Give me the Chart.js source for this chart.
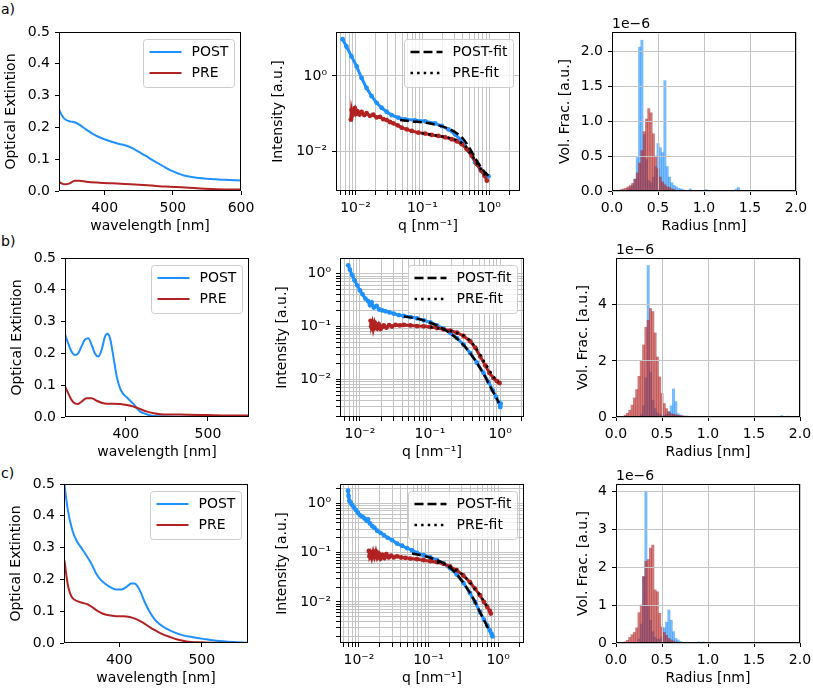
<!DOCTYPE html>
<html><head><meta charset="utf-8">
<script src="https://cdn.jsdelivr.net/npm/chart.js@4.4.0/dist/chart.umd.min.js"></script>
<style>
html,body{margin:0;padding:0;background:#fff;}
body{width:813px;height:691px;position:relative;overflow:hidden;font-family:"DejaVu Sans",sans-serif;}
canvas{position:absolute;}
.lbl{position:absolute;font:14px "DejaVu Sans",sans-serif;color:#000;line-height:16px;}
</style></head><body>
<div class="lbl" style="left:1px;top:1px">a)</div>
<div class="lbl" style="left:1px;top:233px">b)</div>
<div class="lbl" style="left:1px;top:465px">c)</div>
<script>
// ---------------- DATA ----------------
// Row a – UV/Vis
const uvA_wl_post = [333.3,336.7,341.5,348.8,356,363.3,372.9,382.6,392.3,401.9,411.6,421.3,430.9,440.6,450.2,459.9,469.6,479.2,488.9,498.6,508.2,517.9,527.5,537.2,556.5,575.8,600];
const uvA_post    = [0.256,0.24,0.226,0.219,0.216,0.208,0.193,0.18,0.169,0.161,0.154,0.148,0.143,0.135,0.123,0.111,0.098,0.086,0.074,0.063,0.055,0.048,0.044,0.041,0.038,0.035,0.033];
const uvA_wl_pre  = [333.3,336.7,341.5,348.8,356,363.3,372.9,392.3,411.6,430.9,450.2,469.6,488.9,517.9,546.9,575.8,600];
const uvA_pre     = [0.029,0.024,0.021,0.024,0.032,0.032,0.029,0.026,0.024,0.022,0.02,0.017,0.014,0.011,0.007,0.005,0.005];
// Row b – UV/Vis
const uvB_wl_post = [325.7,329.8,333.9,338,342,346.1,350.2,354.3,358.4,362.4,366.5,370.6,374.7,377.6,380.8,384.9,389,393.1,397.1,401.2,405.3,409.4,413.5,417.6,421.6,429.8,442,458.4,491,550];
const uvB_post    = [0.262,0.232,0.206,0.195,0.2,0.222,0.243,0.248,0.227,0.2,0.19,0.211,0.253,0.262,0.248,0.19,0.127,0.09,0.072,0.062,0.051,0.041,0.027,0.017,0.012,0.005,0.002,0.001,0.001,0.001];
const uvB_wl_pre  = [325.7,329.8,333.9,338,342,346.1,352.2,358.4,364.5,370.6,376.7,384.9,393.1,401.2,409.4,417.6,425.7,433.9,442,458.4,474.7,499.2,523.7,550];
const uvB_pre     = [0.098,0.075,0.054,0.043,0.041,0.048,0.059,0.059,0.051,0.045,0.042,0.042,0.041,0.038,0.033,0.025,0.017,0.012,0.009,0.008,0.007,0.006,0.005,0.005];
// Row c – UV/Vis
const uvC_wl_post = [333.6,335.6,337.7,340.5,343.7,347.8,353.8,359.9,366,372.1,378.1,384.2,390.3,396.4,402.4,408.5,414.6,418.6,422.7,426.7,430.8,436.8,442.9,449,457.1,465.2,477.3,489.5,501.6,517.8,538.1,556];
const uvC_post    = [0.497,0.455,0.418,0.381,0.35,0.324,0.3,0.276,0.25,0.218,0.197,0.184,0.174,0.168,0.168,0.176,0.187,0.187,0.176,0.155,0.129,0.098,0.074,0.059,0.045,0.035,0.024,0.018,0.013,0.007,0.003,0.001];
const uvC_wl_pre  = [333.6,335.6,337.7,340.5,343.7,349.8,355.9,362,368,374.1,380.2,388.3,396.4,404.5,412.6,420.6,428.7,436.8,444.9,453,461.1,469.2,481.4,497.6,517.8,556];
const uvC_pre     = [0.26,0.218,0.182,0.155,0.14,0.131,0.126,0.121,0.111,0.1,0.092,0.087,0.084,0.084,0.082,0.075,0.064,0.05,0.038,0.027,0.019,0.012,0.005,0.002,0.001,0.0];

// Row a – SAXS
const saxsA_q_post = [0.0064,0.0073,0.0087,0.0104,0.0123,0.0146,0.0174,0.0207,0.0245,0.0292,0.0347,0.0437,0.055,0.0776,0.11,0.155,0.195,0.245,0.309,0.389,0.49,0.617,0.733,0.871,0.977];
const saxsA_post   = [9.42,6.03,3.3,1.795,0.885,0.483,0.292,0.195,0.144,0.113,0.0923,0.0785,0.071,0.0668,0.0631,0.0557,0.0473,0.0387,0.0286,0.0191,0.0104,0.00513,0.00343,0.00254,0.0022];
const saxsA_q_pre  = [0.00851,0.00871,0.00902,0.00933,0.00977,0.0102,0.0107,0.0115,0.0123,0.0135,0.0146,0.0164,0.0184,0.0207,0.0232,0.026,0.0292,0.0327,0.0367,0.0427,0.049,0.0582,0.0692,0.0871,0.11,0.138,0.174,0.219,0.275,0.327,0.389,0.462,0.55,0.653,0.759,0.851,0.923];
const saxsA_pre    = [0.07,0.125,0.092,0.122,0.14,0.1,0.115,0.095,0.112,0.092,0.103,0.088,0.094,0.08,0.083,0.072,0.068,0.0604,0.0557,0.0493,0.0428,0.0387,0.035,0.0316,0.0298,0.0275,0.0258,0.0238,0.0211,0.0187,0.0156,0.0115,0.00769,0.00465,0.0031,0.00229,0.00169];
const saxsA_q_postfit = [0.0462,0.0692,0.11,0.174,0.245,0.327,0.412,0.519,0.653,0.822,0.977];
const saxsA_postfit   = [0.068,0.0628,0.058,0.0493,0.0403,0.0304,0.0211,0.0115,0.00568,0.0031,0.00229];
const saxsA_q_prefit  = [0.0977,0.155,0.245,0.347,0.437,0.55,0.692,0.822,0.923];
const saxsA_prefit    = [0.0304,0.0269,0.0233,0.0191,0.0141,0.008,0.0042,0.00269,0.00199];
// Row b – SAXS
const saxsB_q_post = [0.00682,0.00721,0.00778,0.00839,0.00916,0.01,0.0109,0.012,0.013,0.0139,0.0147,0.0158,0.0173,0.0188,0.0208,0.0232,0.0264,0.0304,0.0359,0.0423,0.0525,0.0653,0.0813,0.101,0.126,0.156,0.195,0.242,0.301,0.374,0.466,0.579,0.682,0.787,0.877,0.957,1.0,1.02];
const saxsB_post   = [1.44,1.19,0.929,0.748,0.601,0.484,0.406,0.336,0.304,0.255,0.285,0.228,0.245,0.21,0.202,0.194,0.185,0.175,0.165,0.158,0.151,0.143,0.131,0.12,0.105,0.091,0.0753,0.0605,0.0453,0.0315,0.0207,0.0132,0.0089,0.0062,0.00463,0.00372,0.00299,0.00347];
const saxsB_q_pre  = [0.0142,0.0145,0.015,0.0155,0.0162,0.0169,0.0176,0.0186,0.0197,0.0208,0.0219,0.0239,0.0261,0.0288,0.0322,0.0371,0.0423,0.0525,0.0653,0.0813,0.101,0.126,0.156,0.195,0.242,0.301,0.374,0.442,0.52,0.612,0.705,0.803,0.897,0.979];
const saxsB_pre    = [0.128,0.1,0.118,0.09,0.12,0.102,0.092,0.11,0.09,0.098,0.105,0.095,0.106,0.1,0.107,0.105,0.107,0.105,0.102,0.101,0.098,0.0938,0.0883,0.0834,0.0764,0.0661,0.0524,0.0397,0.0272,0.0184,0.0132,0.0106,0.00929,0.00853];
const saxsB_q_postfit = [0.0423,0.0653,0.101,0.156,0.242,0.336,0.466,0.612,0.762,0.897,0.957];
const saxsB_postfit   = [0.155,0.141,0.118,0.0897,0.0589,0.0375,0.0204,0.0111,0.00637,0.0043,0.00356];
const saxsB_q_prefit  = [0.101,0.156,0.242,0.336,0.442,0.548,0.682,0.803,0.946];
const saxsB_prefit    = [0.098,0.0883,0.0753,0.0615,0.0409,0.0257,0.0159,0.0111,0.0089];
// Row c – SAXS
const saxsC_q_post = [0.00697,0.00711,0.00728,0.0076,0.00803,0.00849,0.00906,0.00968,0.0103,0.0112,0.012,0.0129,0.0135,0.0144,0.0155,0.0167,0.0183,0.0204,0.0228,0.0259,0.0299,0.0353,0.0416,0.049,0.0578,0.0681,0.0849,0.106,0.132,0.164,0.204,0.254,0.316,0.394,0.465,0.547,0.624,0.697,0.76,0.803,0.83];
const saxsC_post   = [1.81,1.41,1.13,1.03,0.925,0.829,0.732,0.646,0.579,0.536,0.495,0.444,0.47,0.392,0.346,0.32,0.278,0.253,0.227,0.2,0.18,0.153,0.138,0.124,0.112,0.0993,0.0889,0.0798,0.0703,0.0603,0.0484,0.036,0.0243,0.0152,0.01,0.00626,0.00438,0.00335,0.00265,0.00227,0.002];
const saxsC_q_pre  = [0.0139,0.0142,0.0147,0.0153,0.016,0.0167,0.0175,0.0183,0.0193,0.0204,0.0218,0.0233,0.0248,0.0269,0.029,0.0316,0.0353,0.0403,0.0464,0.0547,0.0681,0.0849,0.106,0.132,0.164,0.204,0.254,0.316,0.394,0.465,0.547,0.624,0.697,0.76,0.785];
const saxsC_pre    = [0.108,0.085,0.098,0.078,0.104,0.082,0.106,0.079,0.095,0.076,0.09,0.078,0.093,0.08,0.087,0.08,0.084,0.0798,0.0785,0.076,0.0738,0.0703,0.0671,0.0641,0.0593,0.0524,0.0441,0.0344,0.0251,0.0187,0.0137,0.01,0.00791,0.00656,0.0058];
const saxsC_q_postfit = [0.0578,0.0849,0.132,0.183,0.254,0.334,0.44,0.547,0.646,0.72];
const saxsC_postfit   = [0.0962,0.0862,0.0703,0.0557,0.0365,0.0218,0.0117,0.00626,0.00392,0.00287];
const saxsC_q_prefit  = [0.132,0.183,0.254,0.334,0.44,0.547,0.646,0.72];
const saxsC_prefit    = [0.0641,0.0566,0.0441,0.0322,0.0202,0.0137,0.00955,0.00731];

// Size distributions (values in units of 1e-6)
const histA_r_post = [0.15,0.175,0.2,0.225,0.25,0.275,0.3,0.325,0.35,0.375,0.4,0.425,0.45,0.475,0.5,0.525,0.55,0.575,0.6,0.625,0.65,0.675,0.7,0.725,0.75,0.775,0.85,1.025,1.35,1.375];
const histA_post   = [0.01,0.03,0.05,0.08,0.17,0.48,2.06,2.16,0.81,0.45,0.15,0.12,0.2,0.35,0.68,0.62,0.55,1.58,0.35,0.2,0.12,0.08,0.06,0.04,0.03,0.02,0.03,0.02,0.03,0.05];
const histA_r_pre  = [0.1,0.125,0.15,0.175,0.2,0.225,0.25,0.275,0.3,0.325,0.35,0.375,0.4,0.425,0.45,0.475,0.5,0.525,0.55,0.575,0.6,0.625,0.65,0.675,0.7];
const histA_pre    = [0.02,0.03,0.04,0.06,0.08,0.11,0.17,0.26,0.4,0.58,0.85,1.03,1.18,1.12,0.82,0.5,0.32,0.2,0.13,0.09,0.06,0.05,0.03,0.02,0.01];
const histB_r_post = [0.275,0.3,0.325,0.35,0.375,0.4,0.425,0.45,0.475,0.5,0.525,0.55,0.575,0.6,0.625,0.65,0.675,0.7,0.725,0.75,0.8,0.85,1.1,1.3,1.8,1.875];
const histB_post   = [0.1,0.4,1.4,5.4,1.6,0.6,0.3,0.15,0.1,0.07,0.05,0.1,0.2,0.4,1.0,0.55,0.12,0.07,0.04,0.03,0.02,0.02,0.02,0.02,0.05,0.03];
const histB_r_pre  = [0.1,0.125,0.15,0.175,0.2,0.225,0.25,0.275,0.3,0.325,0.35,0.375,0.4,0.425,0.45,0.475,0.5,0.525,0.55,0.575,0.6,0.625,0.65,0.675,0.7,0.725,0.75,0.775,0.8,0.825,0.85,0.875,0.9];
const histB_pre    = [0.07,0.13,0.24,0.42,0.68,0.98,1.45,2.0,2.57,3.2,3.45,3.87,3.76,3.0,2.14,1.43,0.84,0.48,0.3,0.18,0.12,0.1,0.08,0.06,0.05,0.04,0.03,0.03,0.02,0.02,0.02,0.01,0.01];
const histC_r_post = [0.25,0.275,0.3,0.325,0.35,0.375,0.4,0.425,0.45,0.475,0.5,0.525,0.55,0.575,0.6,0.625,0.65,0.675,0.7,0.725,0.825,0.85,0.9,0.95,1.0,1.1,1.2,1.45,1.475];
const histC_post   = [0.1,0.5,1.75,4.0,1.0,0.6,0.3,0.15,0.1,0.1,0.15,0.4,0.55,0.87,0.6,0.3,0.12,0.08,0.04,0.02,0.02,0.02,0.03,0.03,0.02,0.02,0.01,0.02,0.02];
const histC_r_pre  = [0.1,0.125,0.15,0.175,0.2,0.225,0.25,0.275,0.3,0.325,0.35,0.375,0.4,0.425,0.45,0.475,0.5,0.525,0.55,0.575,0.6,0.625,0.65,0.675,0.7];
const histC_pre    = [0.03,0.07,0.15,0.22,0.28,0.4,0.8,1.0,1.75,2.15,2.2,2.5,2.58,1.4,1.35,0.78,0.42,0.28,0.2,0.12,0.08,0.05,0.03,0.02,0.01];

// Tick labels
const uvYTicks = [0, 0.1, 0.2, 0.3, 0.4, 0.5];
const uvAXTicks = [400, 500, 600];
const uvBXTicks = [400, 500];
const uvCXTicks = [400, 500];
const saxsMajorTicks = [0.01, 0.1, 1];
const saxsAYTicks = [0.01, 1];
const histXTicks = [0, 0.5, 1, 1.5, 2];
const histAYTicks = [0, 0.5, 1, 1.5, 2];
const histBYTicks = [0, 2, 4];
const histCYTicks = [0, 1, 2, 3, 4];
const histOffsetText = '1e\u22126';

// ---------------- STYLE / LAYOUT ----------------
const BLUE = '#1e90ff', RED = '#b22222';
const BLUE_A = 'rgba(30,144,255,0.6)', RED_A = 'rgba(178,34,34,0.6)';
const GRID = '#c4c4c4';
const FS = 14;
const PW = 184, PH = 159, T = 24, B = 48, R = 16, L = 70;

Chart.defaults.font.family = '"DejaVu Sans", sans-serif';
Chart.defaults.font.size = FS;
Chart.defaults.color = '#000';

function xy(xs, ys) { return xs.map((x, i) => ({x: x, y: ys[i]})); }
function sup(v) {
  const m = {'-':'\u207B','0':'\u2070','1':'\u00B9','2':'\u00B2','3':'\u00B3'};
  const e = Math.round(Math.log10(v));
  return '10' + String(e).split('').map(c => m[c]).join('');
}
function logTickValues(min, max) {
  const out = [];
  for (let e = Math.floor(Math.log10(min)); e <= Math.ceil(Math.log10(max)); e++)
    for (let m = 1; m <= 9; m++) {
      const v = parseFloat((m * Math.pow(10, e)).toPrecision(6));
      if (v >= min && v <= max) out.push(v);
    }
  return out;
}

function rrect(ctx, x, y, w, h, r) {
  ctx.beginPath();
  ctx.moveTo(x + r, y); ctx.lineTo(x + w - r, y); ctx.quadraticCurveTo(x + w, y, x + w, y + r);
  ctx.lineTo(x + w, y + h - r); ctx.quadraticCurveTo(x + w, y + h, x + w - r, y + h);
  ctx.lineTo(x + r, y + h); ctx.quadraticCurveTo(x, y + h, x, y + h - r);
  ctx.lineTo(x, y + r); ctx.quadraticCurveTo(x, y, x + r, y); ctx.closePath();
}

const mplLegend = {
  id: 'mplLegend',
  afterDraw(chart, args, opts) {
    if (!opts || !opts.show) return;
    const items = chart.data.datasets.filter(d => d.inLegend);
    const ctx = chart.ctx, a = chart.chartArea;
    ctx.save();
    ctx.font = FS + 'px "DejaVu Sans", sans-serif';
    const tw = Math.max(...items.map(d => ctx.measureText(d.label).width));
    const w = Math.round(48 + tw + 6), h = 48;
    const x = Math.round(a.right - 7 - w) + 0.5, y = Math.round(a.top + 7) + 0.5;
    rrect(ctx, x, y, w, h, 3);
    ctx.fillStyle = 'rgba(255,255,255,0.8)'; ctx.fill();
    ctx.strokeStyle = '#cccccc'; ctx.lineWidth = 1; ctx.stroke();
    items.forEach((d, i) => {
      const cy = Math.round(y + 12 + i * 21.5);
      ctx.beginPath();
      ctx.setLineDash(d.borderDash || []);
      ctx.lineCap = 'butt';
      ctx.strokeStyle = d.borderColor;
      ctx.lineWidth = d.borderWidth;
      ctx.moveTo(x + 6, cy); ctx.lineTo(x + 38, cy); ctx.stroke();
      ctx.setLineDash([]);
      ctx.fillStyle = '#000'; ctx.textBaseline = 'middle'; ctx.textAlign = 'left';
      ctx.fillText(d.label, x + 48, cy + 0.5);
    });
    ctx.restore();
  }
};
const mplFrame = {
  id: 'mplFrame',
  afterDraw(chart, args, opts) {
    const ctx = chart.ctx, a = chart.chartArea;
    ctx.save();
    ctx.strokeStyle = '#000'; ctx.lineWidth = 1;
    ctx.strokeRect(Math.round(a.left) + 0.5, Math.round(a.top) + 0.5, Math.round(a.right - a.left) - 1, Math.round(a.bottom - a.top) - 1);
    if (opts && opts.offsetText) {
      ctx.fillStyle = '#000'; ctx.font = FS + 'px "DejaVu Sans", sans-serif';
      ctx.textBaseline = 'alphabetic'; ctx.textAlign = 'left';
      ctx.fillText(opts.offsetText, a.left, a.top - 4);
    }
    ctx.restore();
  }
};
Chart.register(mplLegend, mplFrame);

function axis(o) {
  const horiz = !!o.horizontal;
  const half = FS * 1.2 / 2;
  return {
    type: o.type, min: o.min, max: o.max, bounds: 'data', offset: false, grace: 0,
    afterBuildTicks: s => { s.ticks = o.ticks.map(v => ({value: v})); },
    afterFit: s => { if (horiz) s.height = B; else s.width = L; },
    ticks: { autoSkip: false, maxRotation: 0, minRotation: 0, padding: horiz ? 4.6 : 5, callback: o.fmt, color: '#000', font: {size: FS} },
    grid: { display: true, drawOnChartArea: !!o.grid, drawTicks: true, color: GRID, lineWidth: 1, tickLength: 4, tickColor: '#000', tickWidth: 1, offset: false, z: o.gridZ || 0 },
    border: { display: false },
    title: { display: true, text: o.title, color: '#000', font: {size: FS},
             padding: horiz ? {top: 0, bottom: B - 35 - half} : {top: L - o.titleOff - half, bottom: 0} }
  };
}

function makePanel(p) {
  const cv = document.createElement('canvas');
  const w = L + PW + R, h = T + PH + B;
  cv.width = w; cv.height = h;
  cv.style.left = (p.left - L) + 'px'; cv.style.top = (p.top - T) + 'px';
  cv.style.width = w + 'px'; cv.style.height = h + 'px';
  document.body.appendChild(cv);
  new Chart(cv, {
    type: p.type,
    data: { datasets: p.datasets },
    options: {
      responsive: false, animation: false, devicePixelRatio: 1, events: [],
      layout: { padding: { top: T, right: R, left: 0, bottom: 0 } },
      scales: { x: axis(p.x), y: axis(p.y) },
      plugins: { legend: {display: false}, tooltip: {enabled: false},
                 mplLegend: { show: !!p.legend }, mplFrame: { offsetText: p.offsetText || '' } }
    }
  });
}

// ---------- builders ----------
const fmt1 = v => v.toFixed(1);
const fmt0 = v => String(v);
function uvPanel(left, top, wlPost, post, wlPre, pre, xmin, xmax, xt) {
  makePanel({
    type: 'line', left, top, legend: true,
    datasets: [
      { label: 'POST', data: xy(wlPost, post), borderColor: BLUE, borderWidth: 2, pointRadius: 0, cubicInterpolationMode: 'monotone', inLegend: true, order: 1 },
      { label: 'PRE', data: xy(wlPre, pre), borderColor: RED, borderWidth: 2, pointRadius: 0, cubicInterpolationMode: 'monotone', inLegend: true, order: 0 }
    ],
    x: { horizontal: true, type: 'linear', min: xmin, max: xmax, ticks: xt, fmt: fmt0, title: 'wavelength [nm]' },
    y: { type: 'linear', min: 0, max: 0.5, ticks: uvYTicks, fmt: fmt1, title: 'Optical Extintion', titleOff: 47.5 }
  });
}
function saxsPanel(left, top, d, xmin, xmax, ymin, ymax, yt) {
  const pt = { pointRadius: 2.4, pointBorderWidth: 0, borderWidth: 3, showLine: true };
  makePanel({
    type: 'line', left, top, legend: true,
    datasets: [
      Object.assign({ label: 'POST', data: xy(d.qPost, d.post), borderColor: BLUE, pointBackgroundColor: BLUE, order: 3 }, pt),
      Object.assign({ label: 'PRE', data: xy(d.qPre, d.pre), borderColor: RED, pointBackgroundColor: RED, order: 2 }, pt),
      { label: 'POST-fit', data: xy(d.qPostFit, d.postFit), borderColor: '#000', borderWidth: 2.5, borderDash: [9, 4], pointRadius: 0, cubicInterpolationMode: 'monotone', inLegend: true, order: 1 },
      { label: 'PRE-fit', data: xy(d.qPreFit, d.preFit), borderColor: '#000', borderWidth: 2.5, borderDash: [2.5, 4.1], pointRadius: 0, cubicInterpolationMode: 'monotone', inLegend: true, order: 0 }
    ],
    x: { horizontal: true, type: 'logarithmic', min: xmin, max: xmax, ticks: logTickValues(xmin, xmax), grid: true,
         fmt: v => saxsMajorTicks.includes(v) ? sup(v) : '', title: 'q [nm\u207B\u00B9]' },
    y: { type: 'logarithmic', min: ymin, max: ymax, ticks: yt, grid: true,
         fmt: v => saxsMajorTicks.includes(v) ? sup(v) : '', title: 'Intensity [a.u.]', titleOff: 57.5 }
  });
}
function histPanel(left, top, rPost, post, rPre, pre, ymax, yt, yfmt, titleOff) {
  const bar = { borderWidth: 0, barPercentage: 1, categoryPercentage: 1, grouped: false };
  makePanel({
    type: 'bar', left, top, offsetText: histOffsetText,
    datasets: [
      Object.assign({ label: 'POST', data: xy(rPost, post), backgroundColor: BLUE_A, order: 1 }, bar),
      Object.assign({ label: 'PRE', data: xy(rPre, pre), backgroundColor: RED_A, order: 0 }, bar)
    ],
    x: { horizontal: true, type: 'linear', min: 0, max: 2, ticks: histXTicks, grid: true, gridZ: 1, fmt: fmt1, title: 'Radius [nm]' },
    y: { type: 'linear', min: 0, max: ymax, ticks: yt, grid: true, gridZ: 1, fmt: yfmt, title: 'Vol. Frac. [a.u.]', titleOff: titleOff }
  });
}

// ---------- panels ----------
uvPanel(59, 32, uvA_wl_post, uvA_post, uvA_wl_pre, uvA_pre, 333, 600, uvAXTicks);
uvPanel(65, 258, uvB_wl_post, uvB_post, uvB_wl_pre, uvB_pre, 326, 550, uvBXTicks);
uvPanel(64, 484, uvC_wl_post, uvC_post, uvC_wl_pre, uvC_pre, 333, 556, uvCXTicks);

saxsPanel(336, 32, { qPost: saxsA_q_post, post: saxsA_post, qPre: saxsA_q_pre, pre: saxsA_pre,
  qPostFit: saxsA_q_postfit, postFit: saxsA_postfit, qPreFit: saxsA_q_prefit, preFit: saxsA_prefit },
  0.0051, 2.89, 0.0009, 14.6, saxsAYTicks);
saxsPanel(340, 258, { qPost: saxsB_q_post, post: saxsB_post, qPre: saxsB_q_pre, pre: saxsB_pre,
  qPostFit: saxsB_q_postfit, postFit: saxsB_postfit, qPreFit: saxsB_q_prefit, preFit: saxsB_prefit },
  0.0052, 2.19, 0.00194, 1.98, logTickValues(0.00194, 1.98));
saxsPanel(340, 484, { qPost: saxsC_q_post, post: saxsC_post, qPre: saxsC_q_pre, pre: saxsC_pre,
  qPostFit: saxsC_q_postfit, postFit: saxsC_postfit, qPreFit: saxsC_q_prefit, preFit: saxsC_prefit },
  0.00535, 2.35, 0.00147, 2.47, logTickValues(0.00147, 2.47));

histPanel(612, 32, histA_r_post, histA_post, histA_r_pre, histA_pre, 2.277, histAYTicks, fmt1, 46.5);
histPanel(616, 258, histB_r_post, histB_post, histB_r_pre, histB_pre, 5.67, histBYTicks, fmt0, 32.5);
histPanel(616, 484, histC_r_post, histC_post, histC_r_pre, histC_pre, 4.19, histCYTicks, fmt0, 32.5);
</script>
</body></html>
